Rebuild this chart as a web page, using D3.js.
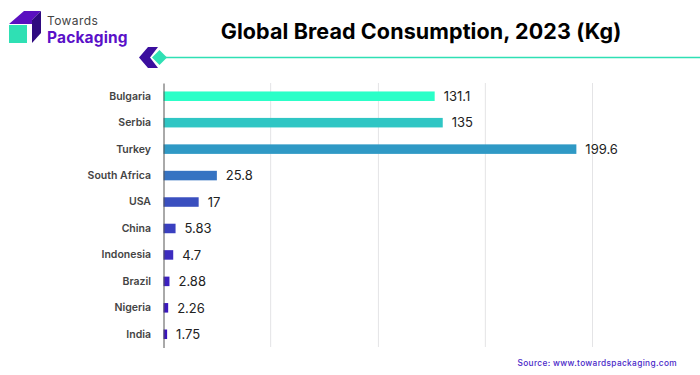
<!DOCTYPE html>
<html>
<head>
<meta charset="utf-8">
<script src="https://cdn.jsdelivr.net/npm/d3@7"></script>
<style>
  html, body { margin: 0; padding: 0; background: #fff; }
  svg { display: block; }
  text { font-family: Inter, "Open Sans", sans-serif; }
</style>
</head>
<body>
<div id="chart"></div>
<script>
const categories = ["Bulgaria", "Serbia", "Turkey", "South Africa", "USA", "China", "Indonesia", "Brazil", "Nigeria", "India"];
const values = [131.1, 135, 199.6, 25.8, 17, 5.83, 4.7, 2.88, 2.26, 1.75];
const valueLabels = ["131.1", "135", "199.6", "25.8", "17", "5.83", "4.7", "2.88", "2.26", "1.75"];
const barColors = ["#2affc8", "#2fc6c4", "#2f99c5", "#3673c2", "#3a4fbf", "#3a40c0", "#3d2dbf", "#3c20c0", "#3b18bf", "#3a14be"];
const gridValues = [51.8, 103.9, 155.6, 207.4];

const width = 700, height = 375;
const margin = { top: 83, left: 163.5 };

const svg = d3.select("#chart").append("svg")
  .attr("width", width)
  .attr("height", height);

const x = d3.scaleLinear().domain([0, 207.4]).range([margin.left, 592.5]);
const y = d3.scaleBand().domain(categories).range([margin.top, 347.5]).paddingInner(0.64).paddingOuter(0.32);

// Grid lines
svg.append("g")
  .selectAll("line")
  .data(gridValues)
  .join("line")
  .attr("x1", d => x(d))
  .attr("x2", d => x(d))
  .attr("y1", 83)
  .attr("y2", 347)
  .attr("stroke", "#e4e4e6")
  .attr("stroke-width", 1);

// Bars
svg.append("g")
  .selectAll("rect")
  .data(values)
  .join("rect")
  .attr("x", x(0))
  .attr("y", (d, i) => y(categories[i]))
  .attr("width", d => x(d) - x(0))
  .attr("height", y.bandwidth())
  .attr("fill", (d, i) => barColors[i]);

// Category axis
const yAxis = svg.append("g")
  .attr("transform", `translate(${margin.left},0)`)
  .call(d3.axisLeft(y).tickSize(0).tickPadding(12.5));
yAxis.select(".domain").attr("stroke", "#555").attr("stroke-width", 1);
yAxis.selectAll("text")
  .style("font-family", "Inter, sans-serif")
  .style("font-size", "10.5px")
  .style("font-weight", 600)
  .attr("fill", "#444");

// Value labels
svg.append("g")
  .selectAll("text")
  .data(values)
  .join("text")
  .attr("x", d => x(d) + 9)
  .attr("y", (d, i) => y(categories[i]) + y.bandwidth() / 2)
  .attr("dy", "0.36em")
  .style("font-size", "13px")
  .attr("fill", "#222")
  .text((d, i) => valueLabels[i]);

// Title
svg.append("text")
  .attr("x", 421)
  .attr("y", 38.5)
  .attr("text-anchor", "middle")
  .style("font-size", "21.5px")
  .style("font-weight", 700)
  .style("letter-spacing", "0.1px")
  .attr("fill", "#000")
  .text("Global Bread Consumption, 2023 (Kg)");

// Divider with arrow
svg.append("line")
  .attr("x1", 160).attr("x2", 700)
  .attr("y1", 57.5).attr("y2", 57.5)
  .attr("stroke", "#2fe0b4").attr("stroke-width", 1.5);
svg.append("path")
  .attr("d", "M139 57.5L148 47H158L150 57.5L158 68H148Z")
  .attr("fill", "#3b0f9e");
svg.append("path")
  .attr("d", "M152 57.5L159.5 50L167 57.5L159.5 65L152 57.5Z")
  .attr("fill", "#2fe0b4");

// Logo
svg.append("path").attr("d", "M9 24L24 11H41L32 20V24Z").attr("fill", "#5a10c0");
svg.append("path").attr("d", "M32 20L41 11V33L32 43Z").attr("fill", "#2f0a80");
svg.append("rect").attr("x", 9).attr("y", 25).attr("width", 18).attr("height", 18).attr("fill", "#2fe0b4");
svg.append("text")
  .attr("x", 47).attr("y", 24.5)
  .style("font-size", "12px")
  .style("letter-spacing", "0.4px")
  .attr("fill", "#444")
  .text("Towards");
svg.append("text")
  .attr("x", 47).attr("y", 42.5)
  .style("font-size", "15.5px")
  .style("font-weight", 700)
  .style("letter-spacing", "0.15px")
  .attr("fill", "#5a10c8")
  .text("Packaging");

// Source
svg.append("text")
  .attr("x", 677).attr("y", 366)
  .attr("text-anchor", "end")
  .style("font-size", "8.3px")
  .style("font-weight", 500)
  .style("letter-spacing", "0.35px")
  .attr("fill", "#4a28c8")
  .text("Source: www.towardspackaging.com");
</script>
</body>
</html>
